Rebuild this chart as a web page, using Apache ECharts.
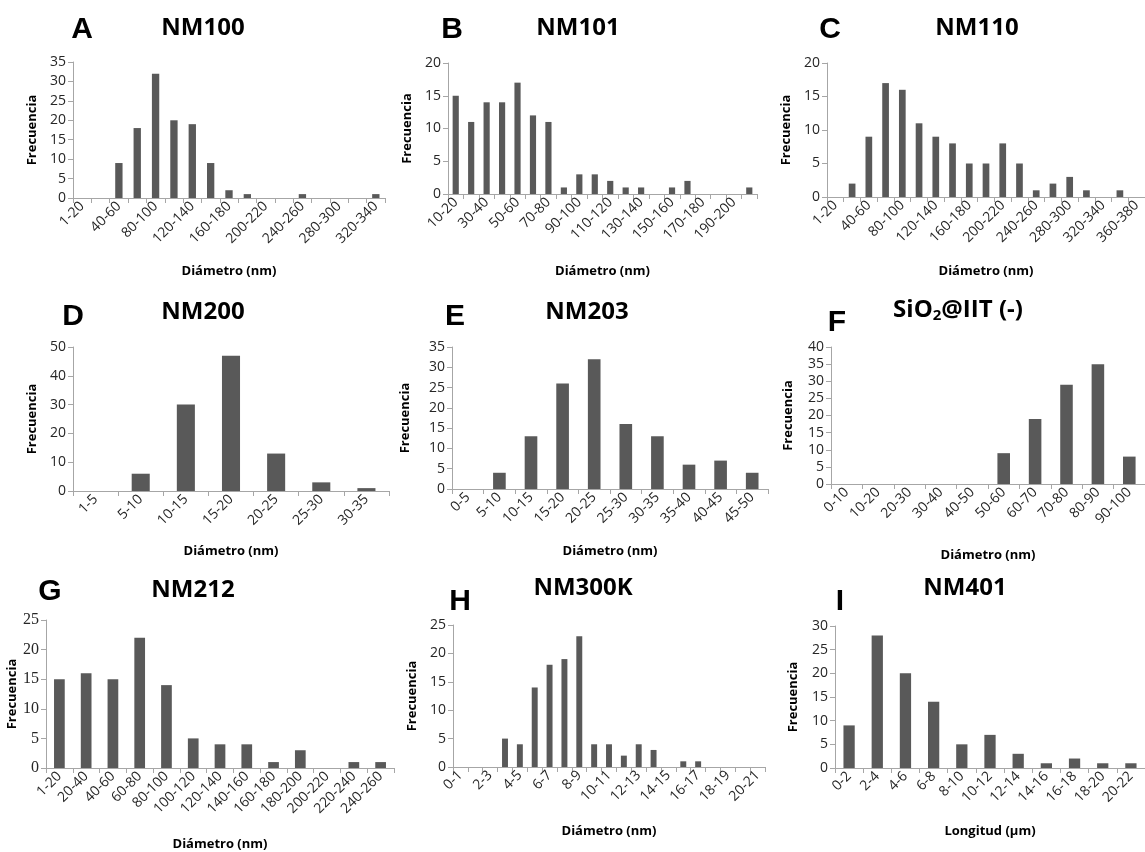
<!DOCTYPE html>
<html><head><meta charset="utf-8">
<script src="https://cdn.jsdelivr.net/npm/echarts@6/dist/echarts.min.js"></script>
<style>html,body{margin:0;padding:0;background:#fff}#c{width:1145px;height:852px}</style>
</head><body><div id="c"></div>
<script>
// ---- data ----
const catA = ['1-20','20-40','40-60','60-80','80-100','100-120','120-140','140-160','160-180','180-200','200-220','220-240','240-260','260-280','280-300','300-320','320-340'];
const valA = [0,0,9,18,32,20,19,9,2,1,0,0,1,0,0,0,1];

const catB = ['10-20','20-30','30-40','40-50','50-60','60-70','70-80','80-90','90-100','100-110','110-120','120-130','130-140','140-150','150-160','160-170','170-180','180-190','190-200','200-210'];
const valB = [15,11,14,14,17,12,11,1,3,3,2,1,1,0,1,2,0,0,0,1];

const catC = ['1-20','20-40','40-60','60-80','80-100','100-120','120-140','140-160','160-180','180-200','200-220','220-240','240-260','260-280','280-300','300-320','320-340','340-360','360-380'];
const valC = [0,2,9,17,16,11,9,8,5,5,8,5,1,2,3,1,0,1,0];

const catD = ['1-5','5-10','10-15','15-20','20-25','25-30','30-35'];
const valD = [0,6,30,47,13,3,1];

const catE = ['0-5','5-10','10-15','15-20','20-25','25-30','30-35','35-40','40-45','45-50'];
const valE = [0,4,13,26,32,16,13,6,7,4];

const catF = ['0-10','10-20','20-30','30-40','40-50','50-60','60-70','70-80','80-90','90-100'];
const valF = [0,0,0,0,0,9,19,29,35,8];

const catG = ['1-20','20-40','40-60','60-80','80-100','100-120','120-140','140-160','160-180','180-200','200-220','220-240','240-260'];
const valG = [15,16,15,22,14,5,4,4,1,3,0,1,1];

const catH = ['0-1','1-2','2-3','3-4','4-5','5-6','6-7','7-8','8-9','9-10','10-11','11-12','12-13','13-14','14-15','15-16','16-17','17-18','18-19','19-20','20-21'];
const valH = [0,0,0,5,4,14,18,19,23,4,4,2,4,3,0,1,1,0,0,0,0];

const catI = ['0-2','2-4','4-6','6-8','8-10','10-12','12-14','14-16','16-18','18-20','20-22'];
const valI = [9,28,20,14,5,7,3,1,2,1,1];

const titles = ['NM100','NM101','NM110','NM200','NM203','SiO2@IIT (-)','NM212','NM300K','NM401'];
const letters = ['A','B','C','D','E','F','G','H','I'];
const xNames = ['Diámetro (nm)','Diámetro (nm)','Diámetro (nm)','Diámetro (nm)','Diámetro (nm)','Diámetro (nm)','Diámetro (nm)','Diámetro (nm)','Longitud (µm)'];
const yName = 'Frecuencia';
const yMax = [35,20,20,50,35,40,25,25,30];
const yStep = [5,5,5,10,5,5,5,5,5];

// ---- layout ----
const panels = [
  {cats:catA, vals:valA, skip:1, grid:[73,62,312,136],   yGap:34, xGap:67, letter:[82,30],  title:[203,28]},
  {cats:catB, vals:valB, skip:1, grid:[448,63,309,131],  yGap:34, xGap:71, letter:[452,30], title:[578,28]},
  {cats:catC, vals:valC, skip:1, grid:[827,63,321,134],  yGap:34, xGap:68, letter:[830,30], title:[977,28]},
  {cats:catD, vals:valD, skip:0, grid:[73,347,316,144],  yGap:34, xGap:54, letter:[73,317], title:[203,312]},
  {cats:catE, vals:valE, skip:0, grid:[452,347,316,142], yGap:40, xGap:56, letter:[455,317],title:[587,312]},
  {cats:catF, vals:valF, skip:0, grid:[831,347,317,137], yGap:36, xGap:65, letter:[837,323],title:[958,310]},
  {cats:catG, vals:valG, skip:0, grid:[46,620,348,149],  yGap:24, xGap:70, letter:[50,592], title:[193,590], serif:true},
  {cats:catH, vals:valH, skip:1, grid:[453,625,312,142], yGap:34, xGap:58, letter:[460,602],title:[583,588]},
  {cats:catI, vals:valI, skip:0, grid:[835,626,318,142], yGap:35, xGap:57, letter:[840,602],title:[965,588]}
];

const AX = '#a6a6a6';
const LBL = '#262626';
const FONT = '"Open Sans", sans-serif';
const grid = [], xAxis = [], yAxis = [], series = [], graphic = [];
panels.forEach((p, i) => {
  grid.push({left:p.grid[0], top:p.grid[1], width:p.grid[2], height:p.grid[3], containLabel:false});
  xAxis.push({
    type:'category', gridIndex:i, data:p.cats, boundaryGap:true,
    name:xNames[i], nameLocation:'middle', nameGap:p.xGap,
    nameTextStyle:{fontFamily:FONT, fontWeight:'bold', fontSize:13, color:'#000'},
    axisLine:{lineStyle:{color:AX, width:1}},
    axisTick:{show:true, interval:0, alignWithLabel:false, length:5, lineStyle:{color:AX}},
    axisLabel:{interval:p.skip, rotate:45, fontFamily:FONT, fontSize:14, color:LBL, margin:6},
    splitLine:{show:false}
  });
  yAxis.push({
    type:'value', gridIndex:i, min:0, max:yMax[i], interval:yStep[i],
    name:yName, nameLocation:'middle', nameGap:p.yGap, nameRotate:90,
    nameTextStyle:{fontFamily:FONT, fontWeight:'bold', fontSize:13, color:'#000'},
    axisLine:{show:true, lineStyle:{color:AX, width:1}},
    axisTick:{show:true, length:5, lineStyle:{color:AX}},
    axisLabel:{fontFamily:p.serif ? '"Liberation Serif", serif' : FONT, fontSize:p.serif ? 16 : 14, color:LBL, margin:7},
    splitLine:{show:false}
  });
  series.push({
    type:'bar', xAxisIndex:i, yAxisIndex:i, data:p.vals, barWidth:'40%',
    itemStyle:{color:'#595959'}, silent:true, animation:false
  });
  graphic.push({type:'text', x:p.letter[0], y:p.letter[1],
    style:{text:letters[i], font:'bold 30px "Liberation Sans", Arial, sans-serif', fill:'#000', align:'center', verticalAlign:'middle'}});
  if (i === 5) {
    graphic.push({type:'text', x:p.title[0], y:p.title[1],
      style:{text:'{a|SiO}{b|2}{a|@IIT (-)}', align:'center', verticalAlign:'middle',
        rich:{a:{fontFamily:FONT, fontWeight:'bold', fontSize:24, fill:'#000', color:'#000', lineHeight:30},
              b:{fontFamily:FONT, fontWeight:'bold', fontSize:15, fill:'#000', color:'#000', lineHeight:30, padding:[12,0,0,0]}}}});
  } else {
    graphic.push({type:'text', x:p.title[0], y:p.title[1],
      style:{text:titles[i], font:'bold 24px ' + FONT, fill:'#000', align:'center', verticalAlign:'middle'}});
  }
});

const chart = echarts.init(document.getElementById('c'), null, {renderer:'canvas'});
chart.setOption({animation:false, backgroundColor:'#fff', grid, xAxis, yAxis, series, graphic});
</script></body></html>
